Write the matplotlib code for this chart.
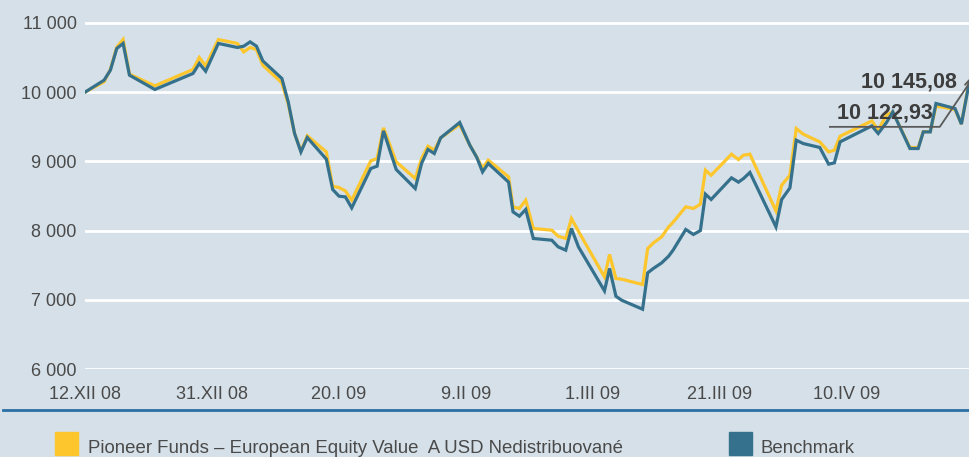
import matplotlib.pyplot as plt
from matplotlib.patches import Rectangle

# x = days since 12.XII 08 (axis positions), values = portfolio value
day = [0, 3, 4, 5, 6, 7, 11, 17, 18, 19, 21, 24, 25, 26, 27, 28, 31, 32, 33, 34,
       35, 38, 39, 40, 41, 42, 45, 46, 47, 49, 52, 53, 54, 55, 56, 59, 60.6, 61.7,
       62.6, 63.5, 66.7, 67.4, 68.4, 69.4, 70.6, 73.5, 74.5, 75.7, 76.6, 77.7,
       81.8, 82.6, 83.6, 84.5, 87.8, 88.6, 89.5, 90.8, 91.9, 92.6, 94.6, 95.8,
       96.9, 97.7, 98.6, 101.8, 102.9, 103.7, 104.7, 108.8, 109.7, 111.0, 112.0,
       113.1, 115.7, 117.1, 118.0, 118.9, 123.9, 124.9, 126.2, 127.2, 129.9,
       131.2, 132.0, 133.1, 134.0, 137.0, 138.0, 139.2]

fund = [10000, 10150, 10330, 10650, 10761, 10260, 10091, 10328, 10501, 10380,
        10761, 10704, 10582, 10646, 10617, 10390, 10135, 9830, 9403, 9150,
        9370, 9137, 8642, 8622, 8574, 8439, 9007, 9042, 9484, 8993, 8753, 9042,
        9220, 9162, 9340, 9533, 9234, 9060, 8900, 9018, 8776, 8343, 8319, 8439,
        8030, 8006, 7919, 7886, 8175, 7990, 7331, 7655, 7308, 7298, 7221, 7741,
        7822, 7909, 8054, 8120, 8343, 8319, 8381, 8873, 8800, 9104, 9027, 9090,
        9104, 8285, 8656, 8801, 9475, 9393, 9282, 9137, 9162, 9364, 9585, 9451,
        9668, 9715, 9200, 9200, 9430, 9430, 9800, 9750, 9540, 10145.08]

bench = [10000, 10173, 10318, 10631, 10704, 10246, 10039, 10270, 10415, 10303,
         10704, 10646, 10665, 10727, 10665, 10452, 10198, 9860, 9403, 9137,
         9345, 9032, 8594, 8497, 8487, 8328, 8897, 8931, 9441, 8883, 8608, 8970,
         9172, 9114, 9340, 9562, 9234, 9056, 8848, 8970, 8700, 8270, 8208, 8305,
         7886, 7861, 7765, 7717, 8030, 7765, 7129, 7453, 7052, 6994, 6864, 7389,
         7453, 7533, 7630, 7717, 8016, 7944, 8000, 8526, 8450, 8762, 8700, 8753,
         8840, 8054, 8449, 8617, 9306, 9258, 9201, 8960, 8979, 9282, 9513, 9403,
         9560, 9715, 9186, 9186, 9426, 9426, 9837, 9764, 9538, 10122.93]

tick_days = [0, 20, 40, 60, 80, 100, 120]
tick_labels = ['12.XII 08', '31.XII 08', '20.I 09', '9.II 09', '1.III 09',
               '21.III 09', '10.IV 09']
y_ticks = [6000, 7000, 8000, 9000, 10000, 11000]
y_labels = ['6 000', '7 000', '8 000', '9 000', '10 000', '11 000']

bg = '#d5e0e8'
yellow = '#fdc62c'
blue = '#35718c'
text_col = '#4a4a4a'

fig = plt.figure(figsize=(9.69, 4.57), dpi=100, facecolor=bg)
ax = fig.add_axes([85 / 969, 88 / 457, 884 / 969, 369 / 457])
ax.set_facecolor(bg)

for y in y_ticks:
    ax.axhline(y, color='white', lw=2, zorder=1)

ax.plot(day, fund, color=yellow, lw=2.3, zorder=3, solid_joinstyle='miter')
ax.plot(day, bench, color=blue, lw=2.3, zorder=4, solid_joinstyle='miter')

ax.set_xlim(0, 139.2)
ax.set_ylim(6000, 11332)
ax.set_xticks(tick_days)
ax.set_xticklabels(tick_labels)
ax.set_yticks(y_ticks)
ax.set_yticklabels(y_labels)
ax.tick_params(length=0, labelsize=13, colors=text_col, pad=6)
ax.tick_params(axis='x', pad=12)
for lab in ax.get_xticklabels() + ax.get_yticklabels():
    lab.set_fontfamily('Liberation Sans')
for s in ax.spines.values():
    s.set_visible(False)

# end value labels
ax.text(137.3, 10150, '10 145,08', ha='right', va='center', fontsize=15.5,
        fontweight='bold', color='#3d3d3d', family='Liberation Sans', zorder=6)
ax.text(133.5, 9705, '10 122,93', ha='right', va='center', fontsize=15.5,
        fontweight='bold', color='#3d3d3d', family='Liberation Sans', zorder=6)
ax.plot([117.3, 134.6, 139.2], [9499, 9499, 10123], color='#5a5a5a', lw=1.3,
        zorder=5, clip_on=False)
ax.plot([138.6, 139.4], [10110, 10190], color='#5a5a5a', lw=1.3, zorder=5)

# bottom rule
fig.add_artist(plt.Line2D([3 / 969, 1], [47 / 457, 47 / 457], color='#2a6fa3',
                          lw=2, transform=fig.transFigure))

# legend
fig.add_artist(Rectangle((55 / 969, 2 / 457), 23 / 969, 23 / 457,
                         transform=fig.transFigure, color=yellow))
fig.text(88 / 969, 4 / 457, 'Pioneer Funds – European Equity Value  A USD Nedistribuované',
         fontsize=13.4, color=text_col, family='Liberation Sans', va='baseline')
fig.add_artist(Rectangle((729 / 969, 2 / 457), 23 / 969, 23 / 457,
                         transform=fig.transFigure, color=blue))
fig.text(761 / 969, 4 / 457, 'Benchmark', fontsize=13.4, color=text_col,
         family='Liberation Sans', va='baseline')

fig.savefig('out.png', dpi=100, facecolor=bg)
